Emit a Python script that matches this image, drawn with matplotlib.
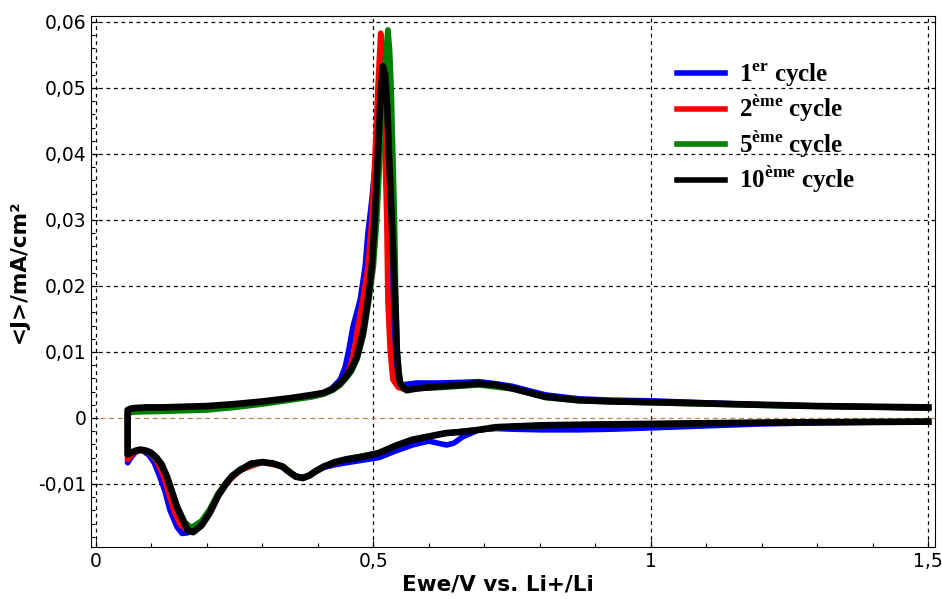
import numpy as np
import matplotlib
matplotlib.use("Agg")
import matplotlib.pyplot as plt
from matplotlib.ticker import MultipleLocator, FuncFormatter

plt.rcParams['mathtext.fontset'] = 'custom'
plt.rcParams['mathtext.rm'] = 'Liberation Serif'
plt.rcParams['mathtext.bf'] = 'Liberation Serif:bold'

# cyclic voltammetry, current density in mA/cm2 (values x1e-3)
# 1er cycle
c1_v_down = [1.50, 1.40, 1.30, 1.20, 1.10, 1.00, 0.93, 0.87, 0.80, 0.75, 0.72, 0.69, 0.66, 0.645, 0.632,
             0.615, 0.60, 0.57, 0.54, 0.51, 0.48, 0.45, 0.43, 0.41, 0.395, 0.385, 0.373, 0.36, 0.345, 0.337,
             0.32, 0.30, 0.28, 0.26, 0.245, 0.236, 0.22, 0.205, 0.19, 0.175, 0.165, 0.155, 0.146, 0.133,
             0.124, 0.115, 0.105, 0.095, 0.085, 0.077, 0.07, 0.063, 0.057]
c1_j_down = [-0.6, -0.65, -0.75, -0.9, -1.2, -1.5, -1.7, -1.8, -1.8, -1.7, -1.6, -1.8, -2.9, -3.8, -4.1,
             -3.8, -3.5, -4.1, -5.0, -6.0, -6.4, -6.8, -7.1, -7.5, -8.2, -8.7, -9.0, -8.8, -8.0, -7.5,
             -6.9, -6.7, -6.9, -7.8, -8.8, -9.6, -11.6, -14.0, -16.0, -17.0, -17.4, -17.5, -16.5, -13.9,
             -11.0, -8.9, -6.8, -5.6, -5.0, -4.9, -5.3, -6.0, -6.8]
c1_v_up = [0.057, 0.065, 0.08, 0.12, 0.16, 0.20, 0.25, 0.30, 0.35, 0.39, 0.41, 0.425, 0.44, 0.449, 0.456,
           0.463, 0.476, 0.485, 0.49, 0.497, 0.505, 0.511, 0.515, 0.518, 0.521, 0.524, 0.527, 0.53, 0.534,
           0.54, 0.55, 0.578, 0.62, 0.66, 0.69, 0.72, 0.75, 0.81, 0.87, 0.93, 1.00, 1.10, 1.20, 1.30, 1.40, 1.50]
c1_j_up = [1.0, 1.3, 1.5, 1.5, 1.6, 1.7, 2.0, 2.4, 2.9, 3.4, 3.8, 4.5, 5.8, 7.7, 10.5,
           13.8, 17.9, 22.9, 28.0, 33.0, 40.0, 48.0, 51.5, 49.0, 43.0, 35.0, 25.0, 15.0, 8.0,
           5.5, 5.0, 5.3, 5.3, 5.4, 5.5, 5.2, 4.8, 3.5, 2.9, 2.7, 2.6, 2.3, 2.0, 1.8, 1.7, 1.5]

# 2eme cycle
c2_v_down = [1.50, 1.30, 1.10, 1.00, 0.90, 0.81, 0.75, 0.69, 0.63, 0.57, 0.51, 0.45, 0.41, 0.385, 0.373,
             0.36, 0.337, 0.30, 0.26, 0.236, 0.22, 0.205, 0.19, 0.18, 0.165, 0.152, 0.14, 0.122, 0.11,
             0.10, 0.09, 0.08, 0.07, 0.063, 0.057]
c2_j_down = [-0.55, -0.65, -0.8, -0.9, -1.0, -1.1, -1.3, -1.8, -2.3, -3.3, -5.3, -6.3, -7.4, -8.7, -9.1,
             -8.9, -7.4, -6.7, -7.9, -9.8, -11.6, -14.0, -15.8, -16.6, -17.0, -16.2, -13.9, -8.9, -6.6,
             -5.6, -5.0, -4.9, -5.2, -5.7, -6.3]
c2_v_up = [0.057, 0.062, 0.07, 0.12, 0.20, 0.25, 0.30, 0.35, 0.39, 0.41, 0.427, 0.44, 0.45, 0.458, 0.466,
           0.472, 0.481, 0.49, 0.497, 0.503, 0.508, 0.513, 0.516, 0.519, 0.521, 0.524, 0.526, 0.53, 0.535,
           0.545, 0.56, 0.62, 0.69, 0.75, 0.81, 0.87, 1.00, 1.20, 1.50]
c2_j_up = [1.0, 1.3, 1.4, 1.5, 1.7, 2.0, 2.4, 2.9, 3.4, 3.8, 4.4, 5.0, 6.2, 7.7, 10.5,
           13.8, 17.9, 22.9, 30.0, 40.0, 50.0, 58.3, 55.0, 50.0, 40.0, 30.0, 17.9, 10.3, 5.8,
           4.6, 4.3, 4.7, 5.1, 4.5, 3.2, 2.7, 2.4, 2.0, 1.5]

# 5eme cycle
c5_v_down = [1.50, 1.30, 1.10, 1.00, 0.90, 0.81, 0.75, 0.69, 0.63, 0.57, 0.51, 0.45, 0.41, 0.385, 0.373,
             0.36, 0.337, 0.30, 0.26, 0.236, 0.22, 0.205, 0.19, 0.172, 0.16, 0.146, 0.128, 0.115, 0.10,
             0.09, 0.08, 0.07, 0.063, 0.057]
c5_j_down = [-0.55, -0.65, -0.8, -0.9, -1.0, -1.1, -1.3, -1.8, -2.3, -3.3, -5.3, -6.2, -7.3, -8.6, -9.0,
             -8.8, -7.3, -6.6, -7.7, -9.6, -11.4, -13.8, -15.6, -16.6, -15.8, -13.3, -8.9, -6.8, -5.5,
             -5.0, -4.8, -5.0, -5.3, -5.6]
c5_v_up = [0.057, 0.062, 0.07, 0.12, 0.20, 0.25, 0.30, 0.35, 0.39, 0.41, 0.427, 0.44, 0.45, 0.46, 0.47,
           0.482, 0.492, 0.50, 0.506, 0.512, 0.518, 0.523, 0.526, 0.529, 0.532, 0.535, 0.538, 0.54, 0.543,
           0.548, 0.556, 0.62, 0.69, 0.75, 0.81, 0.87, 1.00, 1.20, 1.50]
c5_j_up = [0.6, 0.8, 0.9, 1.0, 1.2, 1.6, 2.1, 2.7, 3.2, 3.6, 4.2, 5.0, 5.9, 7.0, 8.8,
           12.5, 17.9, 23.0, 30.0, 40.0, 50.0, 56.0, 58.8, 56.0, 50.0, 40.0, 30.0, 20.0, 10.0,
           5.5, 4.4, 4.6, 5.0, 4.4, 3.1, 2.6, 2.3, 1.9, 1.5]

# 10eme cycle
c10_v_down = [1.50, 1.40, 1.30, 1.20, 1.10, 1.00, 0.90, 0.81, 0.75, 0.72, 0.69, 0.66, 0.63, 0.60, 0.57,
              0.54, 0.51, 0.48, 0.45, 0.43, 0.41, 0.395, 0.385, 0.373, 0.36, 0.345, 0.337, 0.32, 0.30,
              0.28, 0.26, 0.245, 0.236, 0.22, 0.205, 0.19, 0.175, 0.165, 0.157, 0.146, 0.137, 0.128,
              0.118, 0.108, 0.098, 0.088, 0.079, 0.07, 0.063, 0.057]
c10_j_down = [-0.55, -0.6, -0.65, -0.7, -0.8, -0.9, -1.0, -1.1, -1.3, -1.4, -1.8, -2.1, -2.3, -2.8, -3.3,
              -4.2, -5.3, -5.9, -6.3, -6.7, -7.4, -8.1, -8.7, -9.1, -8.9, -8.0, -7.4, -6.9, -6.7,
              -6.9, -7.9, -8.8, -9.8, -11.8, -14.4, -16.3, -17.3, -17.0, -15.5, -13.5, -11.2, -8.9,
              -7.0, -5.9, -5.2, -4.9, -4.8, -5.0, -5.3, -5.5]
c10_v_up = [0.057, 0.062, 0.07, 0.09, 0.12, 0.16, 0.20, 0.25, 0.30, 0.35, 0.39, 0.41, 0.427, 0.44, 0.45,
            0.46, 0.47, 0.481, 0.49, 0.497, 0.50, 0.503, 0.508, 0.513, 0.517, 0.521, 0.525, 0.528, 0.533,
            0.537, 0.539, 0.542, 0.545, 0.548, 0.555, 0.56, 0.58, 0.62, 0.66, 0.69, 0.72, 0.75, 0.81,
            0.87, 0.93, 1.00, 1.10, 1.20, 1.30, 1.40, 1.50]
c10_j_up = [1.2, 1.4, 1.5, 1.6, 1.6, 1.7, 1.8, 2.1, 2.5, 3.0, 3.5, 3.8, 4.4, 5.3, 6.2,
            7.4, 9.2, 12.9, 17.9, 22.9, 27.0, 31.0, 40.0, 49.0, 53.3, 52.0, 47.0, 40.0, 30.0,
            22.0, 17.9, 10.3, 7.0, 5.3, 4.5, 4.2, 4.5, 4.8, 5.0, 5.2, 5.0, 4.5, 3.2,
            2.7, 2.5, 2.4, 2.2, 2.0, 1.8, 1.7, 1.6]

labels = ['1$^{\\mathbf{er}}$ cycle', '2$^{\\mathbf{\u00e8me}}$ cycle',
          '5$^{\\mathbf{\u00e8me}}$ cycle', '10$^{\\mathbf{\u00e8me}}$ cycle']
colors = ['#0000ff', '#ff0000', '#008000', '#000000']
widths = [4.0, 4.0, 4.0, 4.8]

cycles = [
    (c1_v_down + c1_v_up, c1_j_down + c1_j_up),
    (c2_v_down + c2_v_up, c2_j_down + c2_j_up),
    (c5_v_down + c5_v_up, c5_j_down + c5_j_up),
    (c10_v_down + c10_v_up, c10_j_down + c10_j_up),
]

fig = plt.figure(figsize=(9.42, 5.99), dpi=100)
ax = fig.add_axes([0.0966, 0.0868, 0.896, 0.8865])

for (v, j), c, lw, lab in zip(cycles, colors, widths, labels):
    ax.plot(v, np.array(j) * 1e-3, color=c, lw=lw, label=lab, solid_joinstyle='round')

ax.set_xlim(-0.009, 1.512)
ax.set_ylim(-0.01955, 0.0609)

ax.xaxis.set_major_locator(MultipleLocator(0.5))
ax.xaxis.set_minor_locator(MultipleLocator(0.1))
ax.yaxis.set_major_locator(MultipleLocator(0.01))
ax.yaxis.set_minor_locator(MultipleLocator(0.002))

def fmt(val, pos):
    s = ('%.2f' % val).rstrip('0').rstrip('.')
    if s in ('-0', ''):
        s = '0'
    return s.replace('.', ',')

ax.xaxis.set_major_formatter(FuncFormatter(fmt))
ax.yaxis.set_major_formatter(FuncFormatter(fmt))
ax.tick_params(which='both', direction='in', labelsize=13.5, colors='black')
ax.tick_params(which='major', length=5, width=0.8)
ax.tick_params(which='minor', length=3, width=0.8)

for y in np.arange(-0.01, 0.061, 0.01):
    if abs(y) < 1e-9:
        continue
    ax.axhline(y, color='black', lw=0.9, ls=(0, (3, 3)), zorder=0)
for x in [0, 0.5, 1.0, 1.5]:
    ax.axvline(x, color='black', lw=0.9, ls=(0, (3, 3)), zorder=0)
ax.axhline(0, color='#b08850', lw=0.9, ls=(0, (4, 3)), zorder=0)

ax.set_xlabel('Ewe/V vs. Li+/Li', fontsize=15.5, fontweight='bold')
ax.set_ylabel('<J>/mA/cm\u00b2', fontsize=15.5, fontweight='bold')
ax.xaxis.set_label_coords(0.482, -0.052)
ax.yaxis.set_label_coords(-0.074, 0.52)

leg = ax.legend(loc='upper left', bbox_to_anchor=(0.668, 0.956), frameon=False,
                prop={'family': 'Liberation Serif', 'weight': 'bold', 'size': 18},
                handlelength=1.9, handletextpad=0.55, labelspacing=0.16)
for h in leg.legend_handles:
    h.set_linewidth(4)

fig.savefig('out.png', dpi=100)
